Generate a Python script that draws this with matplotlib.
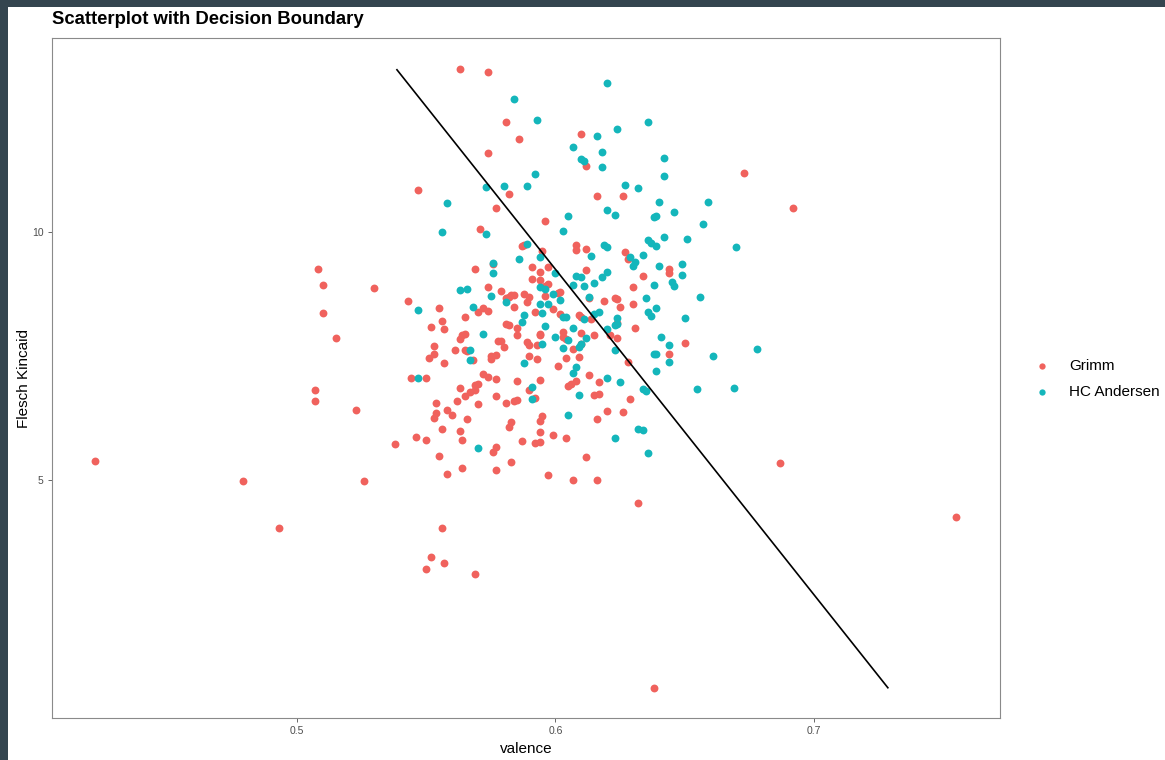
import matplotlib
matplotlib.use("Agg")
import matplotlib.pyplot as plt
from matplotlib.patches import Rectangle

plt.rcParams['font.family'] = ['Liberation Sans', 'DejaVu Sans']

# Grimm tales: valence vs Flesch Kincaid
grimm_x = [0.563, 0.574, 0.581, 0.586, 0.574, 0.547, 0.582, 0.577, 0.596, 0.610,
           0.612, 0.616, 0.626, 0.673, 0.692,
           0.571, 0.587, 0.588, 0.595, 0.569, 0.576, 0.591, 0.594, 0.597, 0.591,
           0.594, 0.597, 0.596, 0.574, 0.579, 0.583, 0.584, 0.581, 0.582, 0.588,
           0.590, 0.596, 0.601, 0.602, 0.543, 0.589, 0.584, 0.555, 0.572, 0.570,
           0.574, 0.599, 0.592, 0.565, 0.556, 0.552, 0.557, 0.581, 0.582, 0.585,
           0.602, 0.565, 0.564, 0.594, 0.594, 0.603, 0.585, 0.603, 0.604, 0.563,
           0.578, 0.579, 0.589, 0.590, 0.593, 0.553, 0.580, 0.565, 0.566, 0.561,
           0.553, 0.551, 0.568, 0.575, 0.577, 0.575, 0.590, 0.593, 0.557, 0.604,
           0.608, 0.608, 0.612, 0.627, 0.628, 0.644, 0.644, 0.634, 0.612, 0.630,
           0.613, 0.623, 0.624, 0.619, 0.625, 0.630, 0.609, 0.610, 0.614, 0.624,
           0.631, 0.610, 0.615, 0.621, 0.624, 0.610, 0.607, 0.609, 0.650, 0.644,
           0.628,
           0.508, 0.510, 0.530, 0.510, 0.515, 0.507, 0.507, 0.523, 0.538, 0.479,
           0.526,
           0.601, 0.544, 0.550, 0.572, 0.574, 0.577, 0.585, 0.594, 0.605, 0.569,
           0.570, 0.563, 0.567, 0.569, 0.590, 0.565, 0.577, 0.592, 0.570, 0.562,
           0.554, 0.581, 0.584, 0.585, 0.558, 0.560, 0.554, 0.553, 0.566, 0.595,
           0.594, 0.583, 0.582, 0.556, 0.563, 0.594, 0.546, 0.550, 0.564, 0.587,
           0.592, 0.594, 0.599, 0.604, 0.577, 0.576, 0.555, 0.583, 0.564, 0.577,
           0.558, 0.597,
           0.613, 0.606, 0.608, 0.617, 0.615, 0.617, 0.629, 0.620, 0.626, 0.616,
           0.612, 0.607, 0.616,
           0.422, 0.493, 0.556, 0.552, 0.557, 0.550, 0.569, 0.632, 0.638, 0.687,
           0.755]
grimm_y = [13.29, 13.23, 12.22, 11.87, 11.59, 10.85, 10.77, 10.48, 10.22, 11.98,
           11.33, 10.73, 10.73, 11.19, 10.48,
           10.06, 9.72, 9.74, 9.62, 9.25, 9.35, 9.29, 9.19, 9.29, 9.05,
           9.03, 8.95, 8.91, 8.89, 8.81, 8.73, 8.73, 8.67, 8.69, 8.75,
           8.69, 8.71, 8.77, 8.79, 8.61, 8.59, 8.49, 8.47, 8.47, 8.39,
           8.41, 8.45, 8.39, 8.29, 8.21, 8.08, 8.04, 8.15, 8.12, 8.06,
           8.35, 7.94, 7.92, 7.94, 7.92, 7.98, 7.92, 7.88, 7.84, 7.84,
           7.80, 7.80, 7.78, 7.72, 7.72, 7.70, 7.68, 7.62, 7.60, 7.62,
           7.54, 7.46, 7.42, 7.50, 7.52, 7.44, 7.50, 7.44, 7.36, 7.46,
           9.74, 9.64, 9.66, 9.60, 9.46, 9.25, 9.17, 9.11, 9.23, 8.89,
           8.67, 8.67, 8.65, 8.61, 8.49, 8.55, 8.33, 8.29, 8.25, 8.17,
           8.06, 7.96, 7.92, 7.92, 7.86, 7.74, 7.64, 7.48, 7.76, 7.54,
           7.38,
           9.25, 8.93, 8.87, 8.37, 7.86, 6.81, 6.59, 6.41, 5.73, 4.98,
           4.98,
           7.30, 7.06, 7.06, 7.14, 7.08, 7.04, 7.00, 7.02, 6.90, 6.92,
           6.94, 6.85, 6.77, 6.81, 6.81, 6.69, 6.69, 6.65, 6.53, 6.59,
           6.55, 6.55, 6.59, 6.61, 6.41, 6.31, 6.35, 6.25, 6.23, 6.29,
           6.19, 6.17, 6.07, 6.03, 5.99, 5.97, 5.87, 5.81, 5.81, 5.79,
           5.75, 5.77, 5.91, 5.85, 5.67, 5.56, 5.48, 5.36, 5.24, 5.20,
           5.12, 5.10,
           7.12, 6.94, 7.00, 6.98, 6.71, 6.73, 6.63, 6.39, 6.37, 6.23,
           5.46, 5.00, 5.00,
           5.38, 4.03, 4.03, 3.45, 3.33, 3.21, 3.10, 4.54, 0.81, 5.34,
           4.25]

# HC Andersen tales
andersen_x = [0.584, 0.593, 0.592, 0.573, 0.580, 0.589, 0.558, 0.605, 0.620, 0.636,
              0.624, 0.616, 0.607, 0.618, 0.610, 0.611, 0.618, 0.642, 0.642, 0.627,
              0.632, 0.640, 0.659, 0.620, 0.623, 0.638, 0.639, 0.646, 0.657,
              0.556, 0.573, 0.603, 0.589, 0.586, 0.594, 0.576, 0.576, 0.600, 0.563,
              0.566, 0.575, 0.594, 0.596, 0.599, 0.581, 0.568, 0.594, 0.597, 0.602,
              0.547, 0.595, 0.588, 0.587, 0.596, 0.603, 0.604, 0.572, 0.600, 0.595,
              0.603, 0.567, 0.567, 0.588,
              0.636, 0.637, 0.639, 0.642, 0.651, 0.670, 0.619, 0.620, 0.614, 0.634,
              0.629, 0.631, 0.630, 0.640, 0.649, 0.649, 0.620, 0.618, 0.608, 0.610,
              0.607, 0.611, 0.615, 0.638, 0.645, 0.646, 0.656, 0.613, 0.635, 0.639,
              0.636, 0.637, 0.650, 0.617, 0.615, 0.611, 0.624, 0.623, 0.624, 0.607,
              0.620, 0.612, 0.605, 0.641, 0.644, 0.610, 0.609, 0.623, 0.638, 0.639,
              0.644, 0.661, 0.678,
              0.547, 0.591, 0.591, 0.605, 0.570,
              0.608, 0.607, 0.620, 0.625, 0.639, 0.655, 0.669, 0.609, 0.634, 0.635,
              0.632, 0.634, 0.623, 0.636]
andersen_y = [12.68, 12.26, 11.17, 10.91, 10.93, 10.93, 10.58, 10.32, 13.00, 12.22,
              12.08, 11.94, 11.71, 11.61, 11.47, 11.43, 11.31, 11.49, 11.13, 10.95,
              10.89, 10.60, 10.60, 10.44, 10.34, 10.30, 10.32, 10.40, 10.16,
              10.00, 9.96, 10.02, 9.76, 9.46, 9.50, 9.38, 9.17, 9.17, 8.83,
              8.85, 8.71, 8.89, 8.85, 8.75, 8.59, 8.49, 8.55, 8.55, 8.63,
              8.43, 8.37, 8.33, 8.19, 8.10, 8.29, 8.29, 7.94, 7.88, 7.74,
              7.66, 7.62, 7.42, 7.36,
              9.84, 9.78, 9.72, 9.90, 9.86, 9.70, 9.74, 9.70, 9.52, 9.54,
              9.50, 9.40, 9.31, 9.31, 9.35, 9.13, 9.19, 9.09, 9.11, 9.09,
              8.93, 8.91, 8.97, 8.93, 8.99, 8.91, 8.69, 8.69, 8.67, 8.47,
              8.39, 8.31, 8.27, 8.39, 8.35, 8.25, 8.27, 8.12, 8.15, 8.06,
              8.04, 7.86, 7.82, 7.88, 7.72, 7.74, 7.68, 7.62, 7.54, 7.54,
              7.38, 7.50, 7.64,
              7.06, 6.87, 6.63, 6.31, 5.65,
              7.28, 7.16, 7.06, 6.98, 7.20, 6.83, 6.85, 6.71, 6.83, 6.79,
              6.03, 6.01, 5.85, 5.54]

# decision boundary
boundary_x = [0.5387, 0.7287]
boundary_y = [13.27, 0.81]

x_ticks = [0.5, 0.6, 0.7]
y_ticks = [5, 10]

W, H = 1165, 760
fig = plt.figure(figsize=(W / 100, H / 100), dpi=100, facecolor='white')
# dark screenshot frame on the left and top
fig.patches.append(Rectangle((0, 0), 8 / W, 1, transform=fig.transFigure,
                             facecolor='#34454f', edgecolor='none', zorder=-5))
fig.patches.append(Rectangle((0, 1 - 7 / H), 1, 7 / H, transform=fig.transFigure,
                             facecolor='#34454f', edgecolor='none', zorder=-5))

ax = fig.add_axes([52 / W, 1 - 718 / H, (1000 - 52) / W, (718 - 38) / H])
ax.set_facecolor('white')

red = '#F0625D'
teal = '#14B6BB'
ax.scatter(grimm_x, grimm_y, s=32, color=red, linewidths=0, label='Grimm', zorder=2)
ax.scatter(andersen_x, andersen_y, s=32, color=teal, linewidths=0, label='HC Andersen', zorder=2)
ax.plot(boundary_x, boundary_y, color='black', lw=1.2, zorder=3)

ax.set_xlim(0.4052, 0.7721)
ax.set_ylim(0.20, 13.91)
ax.set_xticks(x_ticks)
ax.set_xticklabels([str(v) for v in x_ticks])
ax.set_yticks(y_ticks)
ax.set_yticklabels([str(v) for v in y_ticks])
ax.tick_params(length=3, width=0.7, color='#666666', labelsize=7.5,
               labelcolor='#4d4d4d', pad=3)
for sp in ax.spines.values():
    sp.set_color('#8a8a8a')
    sp.set_linewidth(0.8)

ax.set_xlabel('valence', fontsize=11, color='black', labelpad=4)
ax.set_ylabel('Flesch Kincaid', fontsize=11, color='black', labelpad=1)
fig.text(52 / W, 1 - 20 / H, 'Scatterplot with Decision Boundary',
         fontsize=13.3, fontweight='bold', ha='left', va='center')

fig.legend(loc='center left', bbox_to_anchor=(1013 / W, 1 - 379 / H),
           frameon=False, fontsize=11, handletextpad=0.75, labelspacing=0.75,
           markerscale=0.8)

fig.savefig('out.png', dpi=100)
